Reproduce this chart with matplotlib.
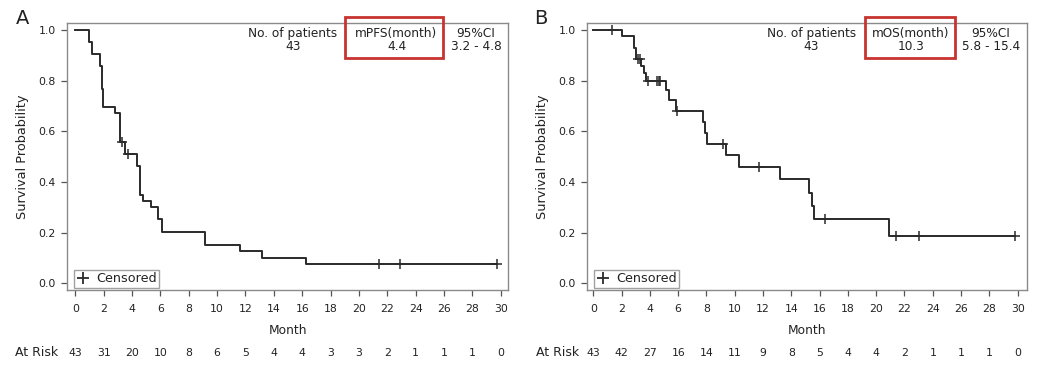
import numpy as np
import matplotlib
matplotlib.use("Agg")
import matplotlib.pyplot as plt
from matplotlib.lines import Line2D
from matplotlib.patches import Rectangle
import matplotlib.transforms as mtransforms

# ---------------- data ----------------
pfs_times = [0, 0.95, 1.15, 1.75, 1.85, 1.95, 2.8, 3.15, 3.5, 4.35, 4.55, 4.75,
             5.35, 5.85, 6.1, 9.15, 11.6, 13.15, 16.3, 29.7]
pfs_surv = [1.0, 0.953, 0.907, 0.86, 0.767, 0.698, 0.674, 0.558, 0.512, 0.465,
            0.349, 0.326, 0.302, 0.256, 0.203, 0.152, 0.127, 0.101, 0.076, 0.076]
pfs_censor_times = [3.27, 3.74, 21.4, 22.9, 29.7]

os_times = [0, 2.05, 2.9, 3.05, 3.4, 3.6, 3.75, 5.15, 5.35, 5.85, 7.75, 7.9, 8.05,
            9.35, 10.3, 13.2, 15.25, 15.45, 15.6, 20.9, 29.8]
os_surv = [1.0, 0.977, 0.93, 0.884, 0.86, 0.83, 0.80, 0.764, 0.724, 0.681, 0.636,
           0.594, 0.552, 0.507, 0.461, 0.411, 0.357, 0.305, 0.254, 0.188, 0.188]
os_censor_times = [1.3, 3.15, 3.3, 3.9, 4.5, 4.62, 4.75, 5.9, 9.2, 11.7, 16.4,
                   21.4, 23.0, 29.8]

risk_times = [0, 2, 4, 6, 8, 10, 12, 14, 16, 18, 20, 22, 24, 26, 28, 30]
pfs_at_risk = [43, 31, 20, 10, 8, 6, 5, 4, 4, 3, 3, 2, 1, 1, 1, 0]
os_at_risk = [43, 42, 27, 16, 14, 11, 9, 8, 5, 4, 4, 2, 1, 1, 1, 0]

pfs_header = ["No. of patients", "mPFS(month)", "95%CI"]
pfs_values = ["43", "4.4", "3.2 - 4.8"]
os_header = ["No. of patients", "mOS(month)", "95%CI"]
os_values = ["43", "10.3", "5.8 - 15.4"]

yticks = [0.0, 0.2, 0.4, 0.6, 0.8, 1.0]

# ---------------- figure ----------------
W, H = 1044, 368
fig = plt.figure(figsize=(W / 100, H / 100), dpi=100)
plt.rcParams['font.family'] = ['DejaVu Sans']

TXT = '#222222'
SPINE = '#8a8a8a'
LINE = '#2a2a2a'
RED = '#c8332f'


def px_axes(l, r, t, b):
    return fig.add_axes([l / W, 1 - b / H, (r - l) / W, (b - t) / H])


def fx(x):
    return x / W


def fy(y):
    return 1 - y / H


def step_value(times, surv, t):
    i = np.searchsorted(times, t, side='right') - 1
    return surv[i]


def panel(ax, times, surv, ctimes, at_risk, header, values, xlim,
          hdr_x, box, letter, letter_x, atrisk_x):
    ax.step(times, surv, where='post', color=LINE, lw=1.4)
    cy = [step_value(np.array(times), np.array(surv), t) for t in ctimes]
    ax.plot(ctimes, cy, linestyle='none', marker='+', markersize=7,
            markeredgewidth=1.1, color=LINE)
    ax.set_xlim(*xlim)
    ax.set_ylim(-0.026, 1.028)
    ax.set_xticks(risk_times)
    ax.set_xticklabels([str(t) for t in risk_times])
    ax.set_yticks(yticks)
    ax.set_yticklabels([f"{v:.1f}" for v in yticks])
    for s in ax.spines.values():
        s.set_color(SPINE)
        s.set_linewidth(1.0)
    ax.tick_params(axis='both', direction='out', length=4, width=0.9,
                   color='#555555', labelsize=7.8, labelcolor=TXT)
    ax.tick_params(axis='x', pad=6)
    ax.tick_params(axis='y', pad=4)
    ax.set_xlabel("Month", fontsize=8.8, color=TXT, labelpad=7)
    ax.set_ylabel("Survival Probability", fontsize=9.3, color=TXT, labelpad=7)

    handle = Line2D([], [], linestyle='none', marker='+', markersize=8,
                    markeredgewidth=1.3, color=LINE)
    leg = ax.legend([handle], ["Censored"], loc='lower left',
                    bbox_to_anchor=(0.016, 0.008), borderaxespad=0,
                    frameon=True, fancybox=False, fontsize=9.2,
                    handlelength=1.0, handletextpad=0.5, borderpad=0.2)
    leg.get_frame().set_edgecolor(SPINE)
    leg.get_frame().set_linewidth(1.0)
    for t in leg.get_texts():
        t.set_color(TXT)

    # header table
    for xc, h, v in zip(hdr_x, header, values):
        fig.text(fx(xc), fy(33.5), h, ha='center', va='center',
                 fontsize=8.7, color=TXT)
        fig.text(fx(xc), fy(47), v, ha='center', va='center',
                 fontsize=8.7, color=TXT)
    bl, br, bt, bb = box
    fig.add_artist(Rectangle((fx(bl), fy(bb)), fx(br) - fx(bl), fy(bt) - fy(bb),
                             transform=fig.transFigure, fill=False,
                             edgecolor=RED, linewidth=2.0, clip_on=False))

    # panel letter
    fig.text(fx(letter_x), fy(19), letter, ha='left', va='center',
             fontsize=14, color=TXT)

    # at-risk row
    trans = mtransforms.blended_transform_factory(ax.transData, fig.transFigure)
    fig.text(fx(atrisk_x), fy(353), "At Risk", ha='left', va='center',
             fontsize=9, color=TXT)
    for t, n in zip(risk_times, at_risk):
        ax.text(t, fy(353), str(n), transform=trans, ha='center', va='center',
                fontsize=7.8, color=TXT, clip_on=False)


axA = px_axes(67, 508, 23, 290)
panel(axA, pfs_times, pfs_surv, pfs_censor_times, pfs_at_risk,
      pfs_header, pfs_values, (-0.585, 30.51),
      [293, 396.5, 476], (345, 443, 17, 58), "A", 16, 15)

axB = px_axes(587, 1027, 23, 290)
panel(axB, os_times, os_surv, os_censor_times, os_at_risk,
      os_header, os_values, (-0.445, 30.66),
      [811.5, 911, 991], (865, 955, 17, 58), "B", 534, 536)

fig.savefig("out.png", dpi=100, facecolor='white')
